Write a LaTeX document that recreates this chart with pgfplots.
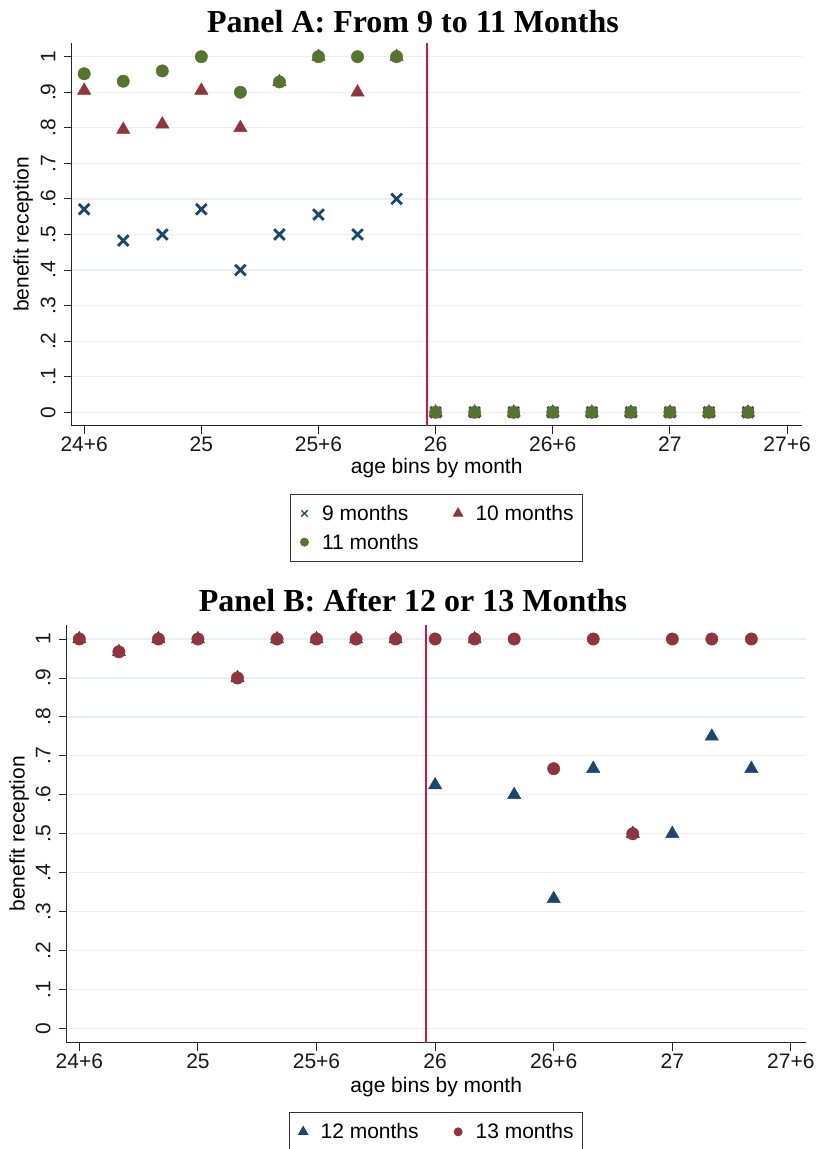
\documentclass[border=0pt]{standalone}
\usepackage{fontspec}
\setmainfont{Liberation Sans}
\newfontfamily\titlefont{Liberation Serif}
\usepackage{pgfplots}
\pgfplotsset{compat=1.18}
\usepackage{pgfplotstable}
\definecolor{stnavy}{RGB}{26,71,111}
\definecolor{stmaroon}{RGB}{144,53,59}
\definecolor{stgreen}{RGB}{85,117,47}
\definecolor{stred}{RGB}{205,25,65}
\definecolor{stgrid}{RGB}{234,240,242}

% x = months after age 24+6
\pgfplotstableread{
x y
0 0.571
2 0.483
4 0.500
6 0.571
8 0.400
10 0.500
12 0.556
14 0.500
16 0.600
18 0
20 0
22 0
24 0
26 0
28 0
30 0
32 0
34 0
}\nine
\pgfplotstableread{
x y
0 0.905
2 0.795
4 0.810
6 0.905
8 0.800
10 0.929
12 1.000
14 0.900
16 1.000
18 0
20 0
22 0
24 0
26 0
28 0
30 0
32 0
34 0
}\ten
\pgfplotstableread{
x y
0 0.952
2 0.931
4 0.960
6 1.000
8 0.900
10 0.929
12 1.000
14 1.000
16 1.000
18 0
20 0
22 0
24 0
26 0
28 0
30 0
32 0
34 0
}\eleven
\pgfplotstableread{
x y
0 1.000
2 0.967
4 1.000
6 1.000
8 0.900
10 1.000
12 1.000
14 1.000
16 1.000
18 0.625
20 1.000
22 0.600
24 0.333
26 0.667
28 0.500
30 0.500
32 0.750
34 0.667
}\twelve
\pgfplotstableread{
x y
0 1.000
2 0.967
4 1.000
6 1.000
8 0.900
10 1.000
12 1.000
14 1.000
16 1.000
18 1.000
20 1.000
22 1.000
24 0.667
26 1.000
28 0.500
30 1.000
32 1.000
34 1.000
}\thirteen

\pgfplotsset{
  statastyle/.style={
    scale only axis,
    anchor=south west,
    axis lines*=left,
    axis line style={-, line width=0.9pt, black!85},
    tick align=outside,
    major tick length=8pt,
    tick style={line width=0.9pt, black!85},
    xmin=-0.64, xmax=36.75,
    xtick={0,6,12,18,24,30,36},
    xticklabels={24+6,25,25+6,26,26+6,27,27+6},
    ytick={0,0.1,0.2,0.3,0.4,0.5,0.6,0.7,0.8,0.9,1},
    yticklabels={0,.1,.2,.3,.4,.5,.6,.7,.8,.9,1},
    ymajorgrids,
    grid style={line width=1.2pt, stgrid},
    tick label style={font=\fontsize{21}{25}\selectfont, text=black!90},
    xticklabel style={anchor=north, inner sep=0pt, yshift=-3pt},
    yticklabel shift=8pt,
    yticklabel style={rotate=90, anchor=south, inner sep=0pt},
    xlabel={age bins by month},
    ylabel={benefit reception},
    legend columns=2,
    legend cell align=left,
    legend image code/.code={\path (-6pt,0pt) (6pt,0pt); \draw[#1] plot coordinates {(0pt,0pt)};},
    legend style={anchor=north, draw=black!80, line width=0.9pt,
      font=\fontsize{21}{25}\selectfont, inner xsep=7pt, inner ysep=9pt,
      row sep=8pt,
      /tikz/every even column/.append style={column sep=31pt},
      /tikz/every odd column/.append style={column sep=9pt}},
  }
}

\begin{document}
\begin{tikzpicture}
% ---------------- Panel A ----------------
\node[font=\titlefont\bfseries\fontsize{32}{37}\selectfont, anchor=base] at (413pt,1116pt) {Panel A: From 9 to 11 Months};
\begin{axis}[statastyle,
  at={(71.7pt,723.3pt)}, width=730pt, height=382.7pt,
  ymin=-0.0377, ymax=1.0385,
  every axis x label/.style={at={(axis description cs:0.5,-0.126)}, anchor=base, font=\fontsize{21}{25}\selectfont},
  every axis y label/.style={at={(axis description cs:-0.0589,0.5)}, rotate=90, anchor=base, font=\fontsize{21}{25}\selectfont},
  legend style={at={(0.5,-0.1775)}},
]
\addplot[stred, line width=1.8pt, forget plot] coordinates {(17.55,-0.0377) (17.55,1.0385)};
\addplot[only marks, mark=x, mark size=7.5pt, line width=2.8pt, stnavy, forget plot] table {\nine};
\addplot[only marks, mark=triangle*, mark size=7.7pt, stmaroon, mark options={draw=stmaroon, fill=stmaroon}, forget plot] table {\ten};
\addplot[only marks, mark=*, mark size=6.2pt, stgreen, mark options={draw=stgreen, fill=stgreen}, forget plot] table {\eleven};
\addlegendimage{only marks, mark=x, mark size=4.5pt, line width=1.3pt, stnavy}
\addlegendentry{9 months}
\addlegendimage{only marks, mark=triangle*, mark size=5.4pt, stmaroon}
\addlegendentry{10 months}
\addlegendimage{only marks, mark=*, mark size=4pt, stgreen}
\addlegendentry{11 months}
\end{axis}
% ---------------- Panel B ----------------
\node[font=\titlefont\bfseries\fontsize{32}{37}\selectfont, anchor=base] at (413pt,537.3pt) {Panel B: After 12 or 13 Months};
\begin{axis}[statastyle,
  at={(66.7pt,106.3pt)}, width=739pt, height=417.7pt,
  ymin=-0.0365, ymax=1.036,
  every axis x label/.style={at={(axis description cs:0.5,-0.1185)}, anchor=base, font=\fontsize{21}{25}\selectfont},
  every axis y label/.style={at={(axis description cs:-0.0568,0.5)}, rotate=90, anchor=base, font=\fontsize{21}{25}\selectfont},
  legend style={at={(0.5,-0.166)}},
]
\addplot[stred, line width=1.8pt, forget plot] coordinates {(17.55,-0.0365) (17.55,1.036)};
\addplot[only marks, mark=triangle*, mark size=7.7pt, stnavy, mark options={draw=stnavy, fill=stnavy}, forget plot] table {\twelve};
\addplot[only marks, mark=*, mark size=6.2pt, stmaroon, mark options={draw=stmaroon, fill=stmaroon}, forget plot] table {\thirteen};
\addlegendimage{only marks, mark=triangle*, mark size=5.4pt, stnavy}
\addlegendentry{12 months}
\addlegendimage{only marks, mark=*, mark size=4pt, stmaroon}
\addlegendentry{13 months}
\end{axis}
\pgfresetboundingbox
\useasboundingbox (0pt,0pt) rectangle (815pt,1149pt);
\end{tikzpicture}
\end{document}
